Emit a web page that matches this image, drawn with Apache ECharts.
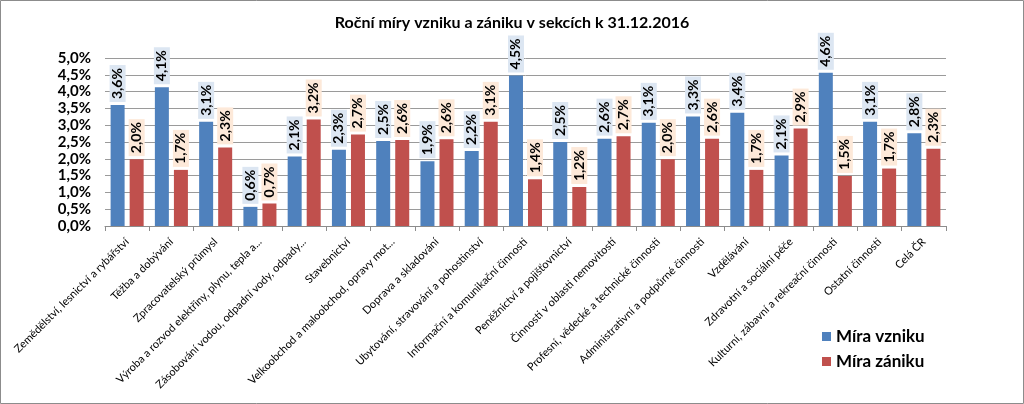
<!DOCTYPE html>
<html><head><meta charset="utf-8">
<script src="https://cdn.jsdelivr.net/npm/echarts@6/dist/echarts.min.js"></script>
<style>html,body{margin:0;padding:0;background:#fff}#c{width:1024px;height:404px}</style>
</head><body><div id="c"></div>
<script>
const categories = [
  "Zemědělství, lesnictví a rybářství",
  "Těžba a dobývání",
  "Zpracovatelský průmysl",
  "Výroba a rozvod elektřiny, plynu, tepla a...",
  "Zásobování vodou, odpadní vody, odpady...",
  "Stavebnictví",
  "Velkoobchod a maloobchod, opravy mot...",
  "Doprava a skladování",
  "Ubytování, stravování a pohostinství",
  "Informační a komunikační činnosti",
  "Peněžnictví a pojišťovnictví",
  "Činnosti v oblasti nemovitostí",
  "Profesní, vědecké a technické činnosti",
  "Administrativní a podpůrné činnosti",
  "Vzdělávání",
  "Zdravotní a sociální péče",
  "Kulturní, zábavní a rekreační činnosti",
  "Ostatní činnosti",
  "Celá ČR"
];
const vznik = [3.60, 4.13, 3.10, 0.57, 2.07, 2.27, 2.53, 1.93, 2.23, 4.48, 2.50, 2.60, 3.07, 3.26, 3.37, 2.10, 4.56, 3.10, 2.76];
const zanik = [1.99, 1.67, 2.34, 0.67, 3.17, 2.72, 2.56, 2.58, 3.10, 1.39, 1.16, 2.67, 1.99, 2.60, 1.67, 2.90, 1.49, 1.71, 2.30];
const seriesNames = ["Míra vzniku", "Míra zániku"];
const yTicks = {min: 0, max: 5, interval: 0.5};

const fmt = v => (Math.round(v * 10) / 10).toFixed(1).replace('.', ',') + '%';
const FONT = 'Lato';
function labelCfg(bg) {
  return {
    show: true, position: 'top', rotate: 90, align: 'left', verticalAlign: 'middle',
    distance: 3, formatter: p => fmt(p.value), fontFamily: FONT, fontWeight: 'bold',
    fontSize: 14, color: '#000', backgroundColor: bg, padding: [1, 3, 1, 3]
  };
}
const chart = echarts.init(document.getElementById('c'));
chart.setOption({
  animation: false,
  backgroundColor: '#fff',
  textStyle: {fontFamily: FONT},
  title: {text: 'Roční míry vzniku a zániku v sekcích k 31.12.2016', left: 'center', top: 10,
    textStyle: {fontFamily: FONT, fontWeight: 'bold', fontSize: 16, color: '#000'}},
  graphic: [{type: 'rect', shape: {x: 0.5, y: 0.5, width: 1023, height: 403},
    style: {fill: null, stroke: '#8c8c8c', lineWidth: 1}, silent: true, z: 100}],
  legend: {orient: 'vertical', left: 817, top: 323, itemWidth: 9, itemHeight: 9, itemGap: 8,
    icon: 'rect', textStyle: {fontFamily: FONT, fontWeight: 'bold', fontSize: 17, color: '#000'},
    data: seriesNames},
  grid: {left: 105, right: 78, top: 58, bottom: 178, containLabel: false},
  xAxis: {type: 'category', data: categories,
    axisLine: {lineStyle: {color: '#8c8c8c'}},
    axisTick: {show: true, length: 5, alignWithLabel: false, lineStyle: {color: '#8c8c8c'}},
    axisLabel: {interval: 0, rotate: 45, fontFamily: FONT, fontSize: 11, color: '#000', margin: 14}},
  yAxis: {type: 'value', min: yTicks.min, max: yTicks.max, interval: yTicks.interval,
    axisLine: {show: false}, axisTick: {show: false},
    splitLine: {lineStyle: {color: '#9a9a9a'}},
    axisLabel: {formatter: v => fmt(v), fontFamily: FONT, fontWeight: 'bold', fontSize: 15, color: '#000', margin: 14}},
  series: [
    {name: seriesNames[0], type: 'bar', data: vznik, barWidth: 14, barGap: '36%',
      itemStyle: {color: '#4f81bd'}, label: labelCfg('#dce6f2')},
    {name: seriesNames[1], type: 'bar', data: zanik, barWidth: 14,
      itemStyle: {color: '#c0504d'}, label: labelCfg('#fde9d9')}
  ]
});
</script></body></html>
